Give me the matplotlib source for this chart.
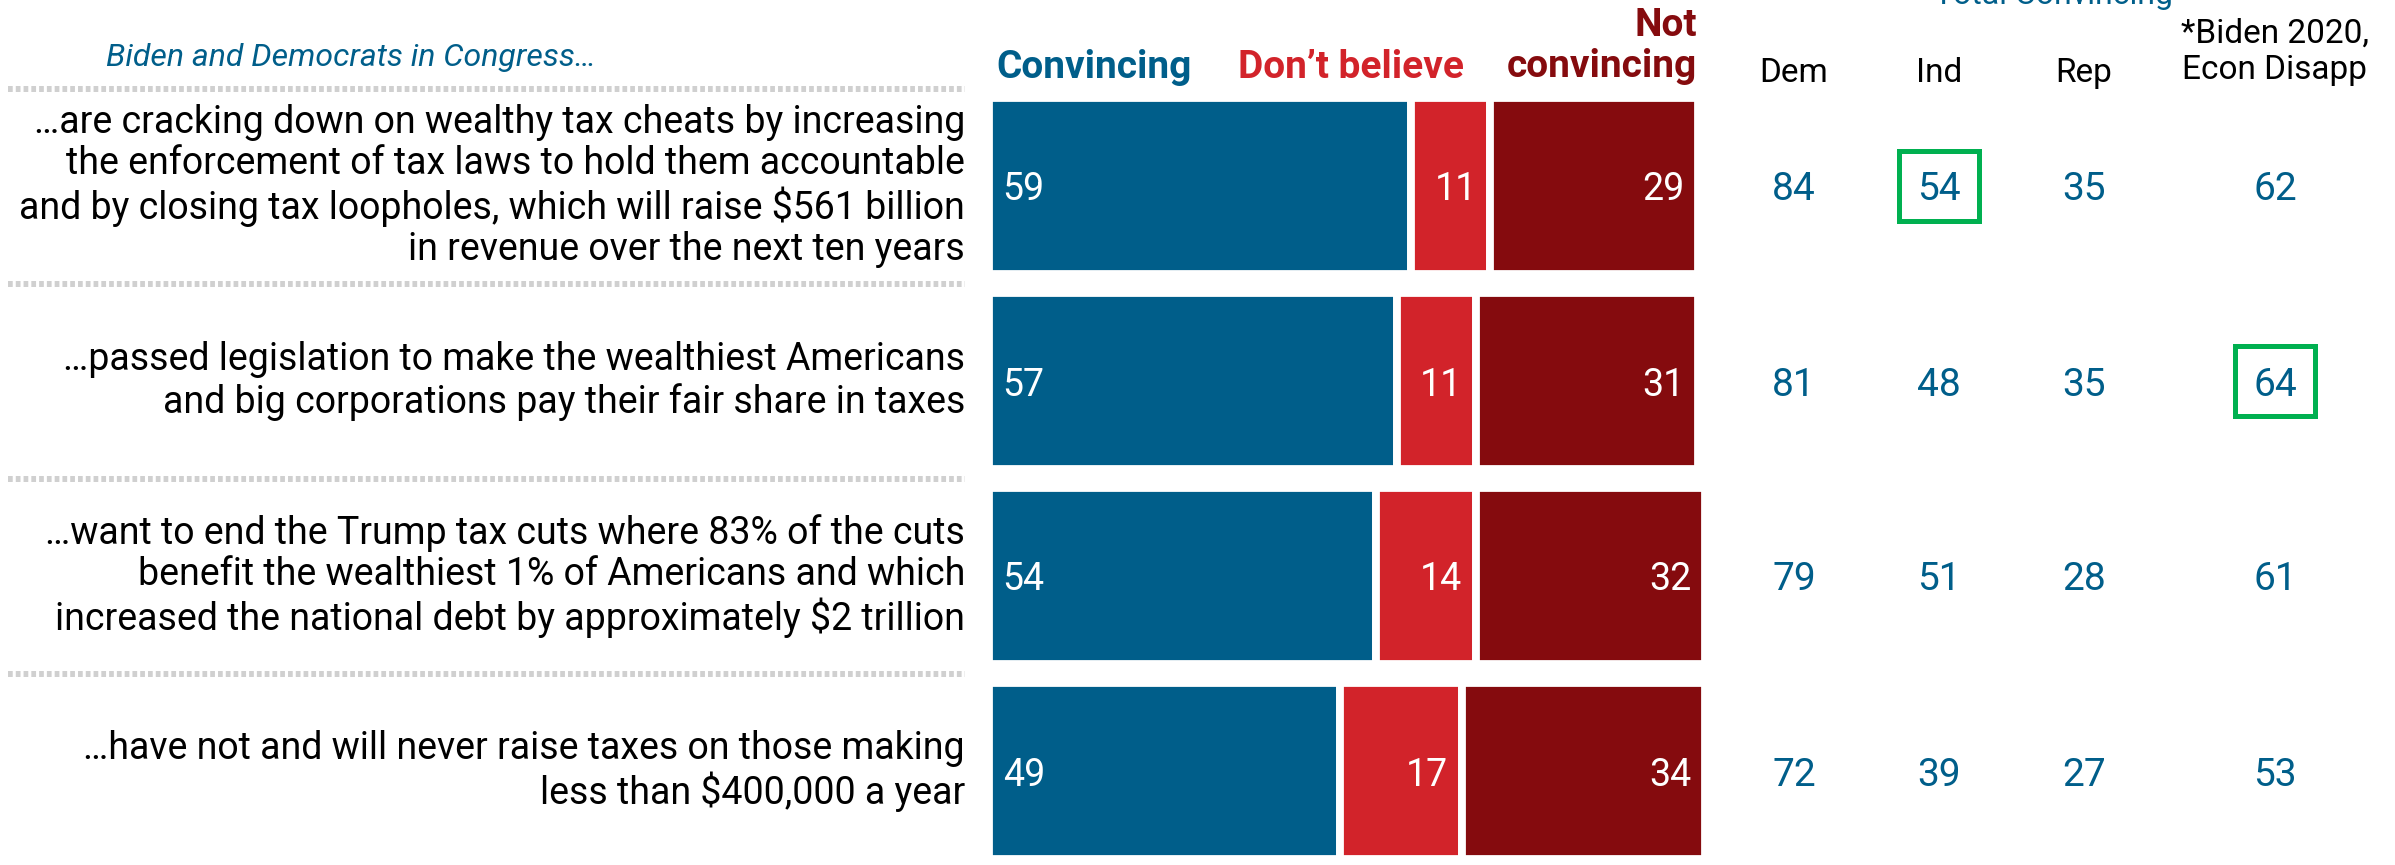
import matplotlib
matplotlib.use("Agg")
import matplotlib.pyplot as plt
from matplotlib import font_manager
from matplotlib.transforms import blended_transform_factory
from matplotlib.patches import Rectangle

installed = {f.name for f in font_manager.fontManager.ttflist}
for cand in ["Liberation Sans Narrow", "DejaVu Sans Condensed", "Roboto", "DejaVu Sans"]:
    if cand in installed:
        FONT = cand
        break
plt.rcParams['font.family'] = [FONT, 'DejaVu Sans']
plt.rcParams['lines.scale_dashes'] = False

# data
statements = [
    "\u2026are cracking down on wealthy tax cheats by increasing\nthe enforcement of tax laws to hold them accountable\nand by closing tax loopholes, which will raise \\$561 billion\nin revenue over the next ten years",
    "\u2026passed legislation to make the wealthiest Americans\nand big corporations pay their fair share in taxes",
    "\u2026want to end the Trump tax cuts where 83% of the cuts\nbenefit the wealthiest 1% of Americans and which\nincreased the national debt by approximately \\$2 trillion",
    "\u2026have not and will never raise taxes on those making\nless than \\$400,000 a year",
]
convincing = [59, 57, 54, 49]
dont_believe = [11, 11, 14, 17]
not_convincing = [29, 31, 32, 34]

table_cols = ["Dem", "Ind", "Rep", "*Biden 2020,\nEcon Disapp"]
table_vals = [
    [84, 54, 35, 62],
    [81, 48, 35, 64],
    [79, 51, 28, 61],
    [72, 39, 27, 53],
]
highlight = [(0, 1), (1, 3)]

BLUE = "#005E8A"
RED = "#D2232A"
DARK = "#850B0E"
GREEN = "#00B050"

W, H = 2395, 865
fig = plt.figure(figsize=(W / 100, H / 100), dpi=100)

ax0 = fig.add_axes([0, 0, 1, 1])
ax0.set_xlim(0, W)
ax0.set_ylim(H, 0)
ax0.axis('off')

x0, x1 = 989, 1705
row0, step = 186, 195
ax = fig.add_axes([x0 / W, 0, (x1 - x0) / W, 1])
ax.set_xlim(0, 100)
ax.set_ylim((H - row0) / step, -row0 / step)
ax.axis('off')

ys = list(range(len(statements)))
hgt = 176 / step
lw = 5.6
ax.barh(ys, convincing, height=hgt, color=BLUE, edgecolor='white', linewidth=lw)
ax.barh(ys, dont_believe, left=convincing, height=hgt, color=RED, edgecolor='white', linewidth=lw)
left2 = [a + b for a, b in zip(convincing, dont_believe)]
ax.barh(ys, not_convincing, left=left2, height=hgt, color=DARK, edgecolor='white', linewidth=lw)

pad = 1.9
dy = 4 / step
for i in ys:
    ax.text(pad, i + dy, str(convincing[i]), color='white', fontsize=27, ha='left', va='center')
    ax.text(left2[i] - pad, i + dy, str(dont_believe[i]), color='white', fontsize=27, ha='right', va='center')
    ax.text(left2[i] + not_convincing[i] - pad, i + dy, str(not_convincing[i]), color='white', fontsize=27,
            ha='right', va='center')

# statements and separators
tr = blended_transform_factory(ax0.transData, ax.transData)
for i, s in enumerate(statements):
    ax0.text(965, i, s, transform=tr, ha='right', va='center', fontsize=27, linespacing=1.14, color='black')
for yy in [-0.5, 0.5, 1.5, 2.5]:
    ax0.plot([8, 965], [yy, yy], transform=tr, color='#D0D0D0', lw=4.3, dashes=(3.4, 2.2),
             solid_capstyle='butt', dash_capstyle='butt')

# headers
ax0.text(351, 57, "Biden and Democrats in Congress\u2026", color=BLUE, fontsize=23, style='italic',
         ha='center', va='center')
ax0.text(996, 67, "Convincing", color=BLUE, fontsize=28, weight='bold', ha='left', va='center')
ax0.text(1351, 67, "Don\u2019t believe", color=RED, fontsize=28, weight='bold', ha='center', va='center')
ax0.text(1697, 46, "Not\nconvincing", color=DARK, fontsize=28, weight='bold', ha='right', va='center',
         linespacing=1.12)
ax0.text(2054, 4, "Total Convincing", color=BLUE, fontsize=23, ha='center', va='baseline')

col_x = [1794, 1939, 2084, 2275]
for cx, name in zip(col_x, table_cols):
    if '\n' in name:
        ax0.text(cx, 52, name, ha='center', va='center', fontsize=24, color='black', linespacing=1.2)
    else:
        ax0.text(cx, 73, name, ha='center', va='center', fontsize=24, color='black')

for i, row in enumerate(table_vals):
    for j, v in enumerate(row):
        ax0.text(col_x[j], i + dy, str(v), transform=tr, ha='center', va='center', fontsize=28,
                 color=BLUE)

for (i, j) in highlight:
    ax0.add_patch(Rectangle((col_x[j] - 40, i - 35 / step), 80, 70 / step, transform=tr,
                            fill=False, edgecolor=GREEN, lw=3.6))

fig.savefig("out.png", dpi=100)
